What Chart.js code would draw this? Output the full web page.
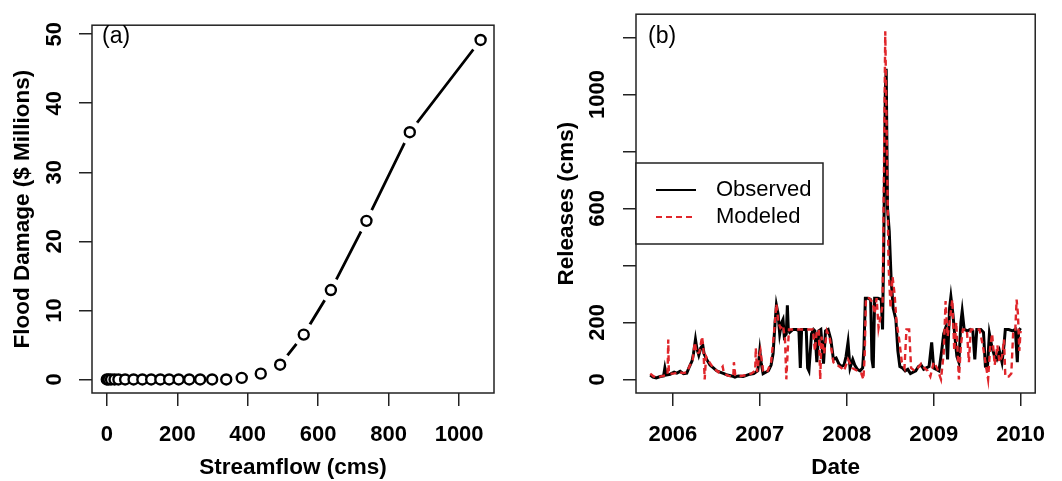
<!DOCTYPE html>
<html>
<head>
<meta charset="utf-8">
<script src="https://cdn.jsdelivr.net/npm/chart.js@4.4.1/dist/chart.umd.min.js"></script>
<style>
body{margin:0;background:#fff;}
#wrap{position:relative;width:1062px;height:481px;}
canvas{position:absolute;top:0;}
#damageChart{left:0;}
#releaseChart{left:531px;}
</style>
</head>
<body>
<div id="wrap">
<canvas id="damageChart" width="531" height="481"></canvas>
<canvas id="releaseChart" width="531" height="481"></canvas>
</div>
<script>
'use strict';

// ---- panel (a): damage curve
var flow = [0, 5, 12, 22, 33, 52, 76, 101, 126, 152, 177, 204, 234, 265, 299, 339, 383, 437, 492, 559, 636, 737, 860, 1061];
var damage = [0, 0, 0, 0, 0, 0, 0, 0, 0, 0, 0, 0, 0, 0, 0, 0, 0.23, 0.84, 2.14, 6.5, 12.95, 22.97, 35.8, 49.16];
var flowTicks = [0, 200, 400, 600, 800, 1000];
var damageTicks = [0, 10, 20, 30, 40, 50];

// ---- panel (b): releases (decimal years)
var obsDates = [2005.740,2005.771,2005.809,2005.855,2005.893,2005.908,2005.924,2005.969,2006.015,2006.046,
  2006.084,2006.122,2006.160,2006.191,2006.221,2006.237,2006.260,2006.275,2006.298,2006.321,
  2006.344,2006.359,2006.389,2006.427,2006.466,2006.504,2006.542,2006.588,2006.626,2006.676,
  2006.714,2006.752,2006.809,2006.847,2006.885,2006.931,2006.977,2007.000,2007.015,2007.038,
  2007.069,2007.099,2007.130,2007.153,2007.176,2007.191,2007.210,2007.229,2007.252,2007.267,
  2007.282,2007.305,2007.317,2007.328,2007.344,2007.382,2007.420,2007.450,2007.466,2007.481,
  2007.534,2007.550,2007.565,2007.595,2007.618,2007.634,2007.656,2007.679,2007.702,2007.733,
  2007.756,2007.786,2007.817,2007.847,2007.878,2007.908,2007.939,2007.969,2007.992,2008.015,
  2008.038,2008.069,2008.092,2008.122,2008.153,2008.183,2008.198,2008.214,2008.244,2008.275,
  2008.290,2008.305,2008.321,2008.359,2008.397,2008.412,2008.427,2008.443,2008.454,2008.469,
  2008.489,2008.511,2008.534,2008.565,2008.588,2008.611,2008.641,2008.672,2008.702,2008.733,
  2008.763,2008.794,2008.824,2008.855,2008.885,2008.916,2008.947,2008.977,2009.000,2009.031,
  2009.061,2009.092,2009.115,2009.137,2009.160,2009.183,2009.198,2009.221,2009.244,2009.267,
  2009.290,2009.313,2009.328,2009.351,2009.389,2009.420,2009.450,2009.473,2009.496,2009.542,
  2009.573,2009.595,2009.618,2009.641,2009.672,2009.702,2009.725,2009.756,2009.786,2009.809,
  2009.824,2009.863,2009.908,2009.939,2009.962,2009.977,2010.000];
var observed = [15,8,5,10,12,40,15,18,25,22,
  28,20,22,45,65,90,140,110,85,110,
  120,90,70,50,40,30,25,20,15,12,
  8,12,10,14,18,20,30,100,60,20,
  25,30,50,90,200,260,230,160,200,210,
  150,160,260,175,165,175,175,170,40,175,
  175,40,30,160,175,170,60,170,175,55,
  170,175,140,70,75,55,45,50,80,130,
  40,70,50,35,30,40,110,285,285,280,
  70,40,285,285,280,175,500,1000,1090,600,
  520,350,250,210,100,45,40,30,35,20,
  25,30,45,50,35,40,45,130,40,35,
  30,100,160,180,70,250,290,230,150,80,
  60,200,240,175,170,175,170,70,175,175,
  165,45,40,160,110,80,70,100,60,120,
  175,175,170,175,60,170,180];

var modDates = [2005.740,2005.779,2005.836,2005.885,2005.939,2005.947,2005.954,2006.008,2006.065,2006.122,
  2006.160,2006.198,2006.229,2006.252,2006.275,2006.305,2006.336,2006.351,2006.366,2006.382,
  2006.420,2006.466,2006.523,2006.573,2006.588,2006.641,2006.695,2006.702,2006.718,2006.779,
  2006.847,2006.901,2006.947,2006.954,2006.969,2006.992,2007.008,2007.038,2007.084,2007.130,
  2007.160,2007.191,2007.214,2007.237,2007.267,2007.290,2007.305,2007.321,2007.336,2007.420,
  2007.496,2007.592,2007.611,2007.634,2007.656,2007.679,2007.695,2007.710,2007.740,2007.771,
  2007.802,2007.847,2007.893,2007.939,2007.969,2008.015,2008.061,2008.122,2008.168,2008.191,
  2008.206,2008.221,2008.260,2008.298,2008.321,2008.344,2008.366,2008.389,2008.412,2008.427,
  2008.443,2008.458,2008.481,2008.504,2008.527,2008.550,2008.573,2008.603,2008.634,2008.664,
  2008.687,2008.718,2008.740,2008.779,2008.817,2008.855,2008.893,2008.931,2008.962,2009.000,
  2009.038,2009.084,2009.115,2009.137,2009.160,2009.183,2009.214,2009.237,2009.260,2009.290,
  2009.313,2009.336,2009.382,2009.405,2009.427,2009.481,2009.527,2009.565,2009.595,2009.626,
  2009.649,2009.672,2009.702,2009.733,2009.756,2009.786,2009.809,2009.824,2009.863,2009.893,
  2009.916,2009.939,2009.954,2009.969,2009.985,2010.000];
var modeled = [20,10,8,12,15,140,20,20,25,22,
  25,50,70,130,90,95,150,110,0,80,
  60,40,25,45,20,12,10,60,15,12,
  15,20,30,110,25,80,100,30,25,60,
  150,265,200,180,190,140,0,100,175,175,
  175,175,175,100,170,175,0,150,90,170,
  150,60,50,40,30,70,40,30,20,0,
  80,285,285,270,230,285,180,220,260,700,
  1222,900,400,250,360,300,200,140,60,40,
  175,175,40,30,40,55,40,30,10,60,
  40,0,90,275,150,200,280,100,200,0,
  120,175,175,60,175,175,175,120,60,0,
  110,160,50,120,60,80,140,10,10,20,
  175,175,280,230,100,170];

var yearTicks = [2006, 2007, 2008, 2009, 2010];
var releaseTicks = [0, 200, 400, 600, 800, 1000, 1200];
var releaseTickLabels = ['0', '200', '', '600', '', '1000', ''];

//-------- shared bits
var tickFont = {family: 'Liberation Sans', size: 22, weight: 'bold'};
var titleFont = {family: 'Liberation Sans', size: 22.5, weight: 'bold'};
var axisGrid = {drawOnChartArea: false, drawTicks: true, tickLength: 13, color: '#222', lineWidth: 1.5};

var boxPlugin = {
  id: 'panelBox',
  afterDraw: function(chart, args, opts) {
    var ctx = chart.ctx, a = chart.chartArea;
    ctx.save();
    ctx.strokeStyle = '#222';
    ctx.lineWidth = 1.5;
    ctx.strokeRect(a.left, a.top, a.right - a.left, a.bottom - a.top);
    ctx.fillStyle = '#000';
    ctx.font = '23px "Liberation Sans"';
    ctx.textBaseline = 'middle';
    ctx.fillText(opts.tag, a.left + opts.dx, 37);
    ctx.restore();
  }
};

var legendPlugin = {
  id: 'boxLegend',
  afterDraw: function(chart) {
    var ctx = chart.ctx, a = chart.chartArea;
    var x0 = a.left, y0 = 163, w = 187, h = 81;
    ctx.save();
    ctx.fillStyle = '#fff';
    ctx.fillRect(x0, y0, w, h);
    ctx.strokeStyle = '#222';
    ctx.lineWidth = 1.5;
    ctx.strokeRect(x0, y0, w, h);
    var rows = [190, 217];
    chart.data.datasets.forEach(function(ds, i) {
      ctx.beginPath();
      ctx.strokeStyle = ds.borderColor;
      ctx.lineWidth = 2;
      ctx.setLineDash(ds.borderDash || []);
      ctx.moveTo(x0 + 20, rows[i]);
      ctx.lineTo(x0 + 60, rows[i]);
      ctx.stroke();
      ctx.setLineDash([]);
      ctx.fillStyle = '#000';
      ctx.font = '22px "Liberation Sans"';
      ctx.textBaseline = 'middle';
      ctx.fillText(ds.label, x0 + 80, rows[i]);
    });
    ctx.restore();
  }
};

//-------- panel (a)
var pts = flow.map(function(f, i){ return {x: f, y: damage[i]}; });

new Chart(document.getElementById('damageChart').getContext('2d'), {
  type: 'line',
  data: {
    datasets: [
      {data: pts, showLine: false, pointRadius: 5, pointBorderWidth: 2.4,
       pointBorderColor: '#000', pointBackgroundColor: '#fff'},
      {data: pts, showLine: false, pointRadius: 12, pointBorderWidth: 0,
       pointBorderColor: '#fff', pointBackgroundColor: '#fff'},
      {data: pts, borderColor: '#000', borderWidth: 2.8, pointRadius: 0, tension: 0}
    ]
  },
  options: {
    responsive: false,
    animation: false,
    layout: {padding: {top: 13, right: 37, left: 0, bottom: 0}},
    plugins: {legend: {display: false}, tooltip: {enabled: false}, panelBox: {tag: '(a)', dx: 10}},
    scales: {
      x: {
        type: 'linear', min: -42, max: 1099,
        afterBuildTicks: function(s){ s.ticks = flowTicks.map(function(v){ return {value: v}; }); },
        afterFit: function(s){ s.height = 88; },
        grid: axisGrid, border: {display: false},
        ticks: {color: '#000', font: tickFont, padding: 16, maxRotation: 0, autoSkip: false,
                callback: function(v){ return String(v); }},
        title: {display: true, text: 'Streamflow (cms)', color: '#000', font: titleFont, padding: 0}
      },
      y: {
        min: -1.96, max: 51.3,
        afterBuildTicks: function(s){ s.ticks = damageTicks.map(function(v){ return {value: v}; }); },
        afterFit: function(s){ s.width = 92; },
        grid: axisGrid, border: {display: false},
        ticks: {color: '#000', font: tickFont, minRotation: 90, maxRotation: 90,
                crossAlign: 'center', padding: 12, autoSkip: false},
        title: {display: true, text: 'Flood Damage ($ Millions)', color: '#000', font: titleFont,
                padding: {top: 9, bottom: 0}}
      }
    }
  },
  plugins: [boxPlugin]
});

//-------- panel (b)
new Chart(document.getElementById('releaseChart').getContext('2d'), {
  type: 'line',
  data: {
    datasets: [
      {label: 'Observed', data: obsDates.map(function(d, i){ return {x: d, y: observed[i]}; }),
       borderColor: '#000', borderWidth: 3, pointRadius: 0, tension: 0, order: 2},
      {label: 'Modeled', data: modDates.map(function(d, i){ return {x: d, y: modeled[i]}; }),
       borderColor: '#E0262B', borderWidth: 2.4, borderDash: [6, 4], pointRadius: 0, tension: 0, order: 1}
    ]
  },
  options: {
    responsive: false,
    animation: false,
    layout: {padding: {top: 13, right: 25, left: 0, bottom: 0}},
    plugins: {legend: {display: false}, tooltip: {enabled: false}, panelBox: {tag: '(b)', dx: 12}},
    scales: {
      x: {
        type: 'linear', min: 2005.576, max: 2010.168,
        afterBuildTicks: function(s){ s.ticks = yearTicks.map(function(v){ return {value: v}; }); },
        afterFit: function(s){ s.height = 88; },
        grid: axisGrid, border: {display: false},
        ticks: {color: '#000', font: tickFont, padding: 16, maxRotation: 0, autoSkip: false,
                callback: function(v){ return String(v); }},
        title: {display: true, text: 'Date', color: '#000', font: titleFont, padding: 0}
      },
      y: {
        min: -48, max: 1282,
        afterBuildTicks: function(s){ s.ticks = releaseTicks.map(function(v){ return {value: v}; }); },
        afterFit: function(s){ s.width = 105; },
        grid: axisGrid, border: {display: false},
        ticks: {color: '#000', font: tickFont, minRotation: 90, maxRotation: 90,
                crossAlign: 'center', padding: 1, autoSkip: false,
                callback: function(v, i){ return releaseTickLabels[i]; }},
        title: {display: true, text: 'Releases (cms)', color: '#000', font: titleFont,
                padding: {top: 22, bottom: 0}}
      }
    }
  },
  plugins: [boxPlugin, legendPlugin]
});
</script>
</body>
</html>
